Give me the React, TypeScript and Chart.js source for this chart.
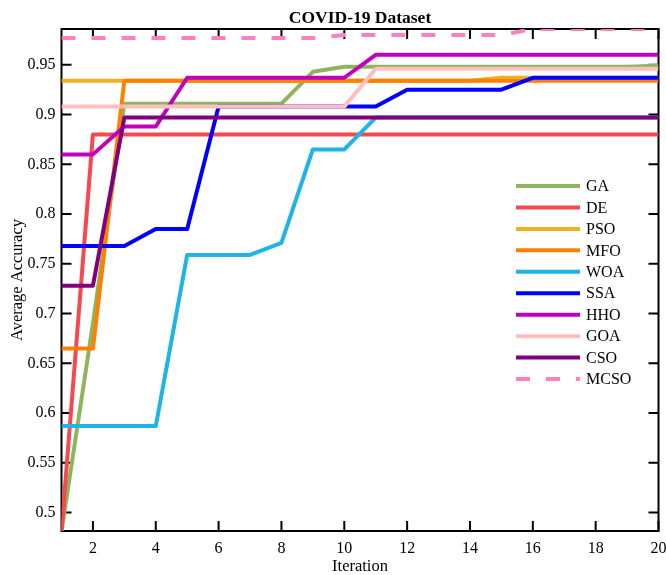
import React, { useEffect, useRef } from 'react';
import { Chart, registerables } from 'chart.js';

Chart.register(...registerables);

const iterations = [1, 2, 3, 4, 5, 6, 7, 8, 9, 10, 11, 12, 13, 14, 15, 16, 17, 18, 19, 20];

const GA = [0.481, 0.690, 0.911, 0.911, 0.911, 0.911, 0.911, 0.911, 0.943, 0.948, 0.948, 0.948, 0.948, 0.948, 0.948, 0.948, 0.948, 0.948, 0.948, 0.949];
const DE = [0.481, 0.880, 0.880, 0.880, 0.880, 0.880, 0.880, 0.880, 0.880, 0.880, 0.880, 0.880, 0.880, 0.880, 0.880, 0.880, 0.880, 0.880, 0.880, 0.880];
const PSO = [0.934, 0.934, 0.934, 0.934, 0.934, 0.934, 0.934, 0.934, 0.934, 0.934, 0.934, 0.934, 0.934, 0.934, 0.937, 0.937, 0.937, 0.937, 0.937, 0.937];
const MFO = [0.665, 0.665, 0.934, 0.934, 0.934, 0.934, 0.934, 0.934, 0.934, 0.934, 0.934, 0.934, 0.934, 0.934, 0.934, 0.934, 0.934, 0.934, 0.934, 0.934];
const WOA = [0.587, 0.587, 0.587, 0.587, 0.759, 0.759, 0.759, 0.771, 0.865, 0.865, 0.897, 0.897, 0.897, 0.897, 0.897, 0.897, 0.897, 0.897, 0.897, 0.897];
const SSA = [0.768, 0.768, 0.768, 0.785, 0.785, 0.908, 0.908, 0.908, 0.908, 0.908, 0.908, 0.925, 0.925, 0.925, 0.925, 0.937, 0.937, 0.937, 0.937, 0.937];
const HHO = [0.860, 0.860, 0.888, 0.888, 0.937, 0.937, 0.937, 0.937, 0.937, 0.937, 0.960, 0.960, 0.960, 0.960, 0.960, 0.960, 0.960, 0.960, 0.960, 0.960];
const GOA = [0.908, 0.908, 0.908, 0.908, 0.908, 0.908, 0.908, 0.908, 0.908, 0.908, 0.946, 0.946, 0.946, 0.946, 0.946, 0.946, 0.946, 0.946, 0.946, 0.946];
const CSO = [0.728, 0.728, 0.897, 0.897, 0.897, 0.897, 0.897, 0.897, 0.897, 0.897, 0.897, 0.897, 0.897, 0.897, 0.897, 0.897, 0.897, 0.897, 0.897, 0.897];
const MCSO = [0.977, 0.977, 0.977, 0.977, 0.977, 0.977, 0.977, 0.977, 0.977, 0.980, 0.980, 0.980, 0.980, 0.980, 0.980, 0.986, 0.986, 0.986, 0.986, 0.986];

const seriesNames = ['GA', 'DE', 'PSO', 'MFO', 'WOA', 'SSA', 'HHO', 'GOA', 'CSO', 'MCSO'];
const seriesValues = [GA, DE, PSO, MFO, WOA, SSA, HHO, GOA, CSO, MCSO];
const seriesColors = ['#8db55c', '#f54850', '#eeb122', '#ff8000', '#1fb3e6', '#0000ff', '#bf00bf', '#ffbfbf', '#800080', '#ff7fc0'];
const seriesDashed = [false, false, false, false, false, false, false, false, false, true];

const xTicks = [2, 4, 6, 8, 10, 12, 14, 16, 18, 20];
const xTickLabels = ['2', '4', '6', '8', '10', '12', '14', '16', '18', '20'];
const yTicks = [0.5, 0.55, 0.6, 0.65, 0.7, 0.75, 0.8, 0.85, 0.9, 0.95];
const yTickLabels = ['0.5', '0.55', '0.6', '0.65', '0.7', '0.75', '0.8', '0.85', '0.9', '0.95'];

const titleText = 'COVID-19 Dataset';
const xTitle = 'Iteration';
const yTitle = 'Average Accuracy';

const FONT = '"Liberation Serif", "Times New Roman", serif';
const DASH = [14, 16];

const framePlugin = {
  id: 'matlabFrame',
  beforeDatasetsDraw(chart: any) {
    const { ctx, chartArea } = chart;
    const { left, right, top, bottom } = chartArea;
    const xs = chart.scales.x;
    const ys = chart.scales.y;
    ctx.save();
    ctx.strokeStyle = '#000';
    ctx.lineWidth = 2;
    ctx.strokeRect(left, top, right - left, bottom - top);
    const tl = 10;
    ctx.beginPath();
    xTicks.forEach((v) => {
      const px = xs.getPixelForValue(v);
      ctx.moveTo(px, bottom);
      ctx.lineTo(px, bottom - tl);
      ctx.moveTo(px, top);
      ctx.lineTo(px, top + tl);
    });
    yTicks.forEach((v) => {
      const py = ys.getPixelForValue(v);
      ctx.moveTo(left, py);
      ctx.lineTo(left + tl, py);
      ctx.moveTo(right, py);
      ctx.lineTo(right - tl, py);
    });
    ctx.stroke();
    ctx.restore();
  },
  afterDraw(chart: any) {
    const { ctx, chartArea } = chart;
    const { left, right, top, bottom } = chartArea;
    const cx = (left + right) / 2;
    const cy = (top + bottom) / 2;
    ctx.save();
    ctx.fillStyle = '#000';
    ctx.textAlign = 'center';
    ctx.textBaseline = 'alphabetic';
    ctx.font = `bold 17.5px ${FONT}`;
    ctx.fillText(titleText, cx, 23);
    ctx.font = `16.5px ${FONT}`;
    ctx.fillText(xTitle, cx, 571);
    ctx.translate(22, cy);
    ctx.rotate(-Math.PI / 2);
    ctx.fillText(yTitle, 0, 0);
    ctx.restore();

    // legend
    ctx.save();
    const lx0 = 516;
    const lx1 = 580;
    const ly0 = 186;
    const step = 21.45;
    chart.data.datasets.forEach((ds: any, i: number) => {
      const y = ly0 + i * step;
      ctx.strokeStyle = ds.borderColor;
      ctx.lineWidth = 4;
      ctx.setLineDash(ds.borderDash || []);
      ctx.beginPath();
      ctx.moveTo(lx0, y);
      ctx.lineTo(lx1, y);
      ctx.stroke();
      ctx.setLineDash([]);
      ctx.fillStyle = '#000';
      ctx.font = `16px ${FONT}`;
      ctx.textAlign = 'left';
      ctx.textBaseline = 'middle';
      ctx.fillText(ds.label, 586, y + 1);
    });
    ctx.restore();
  },
};

export default function App() {
  const canvasRef = useRef<HTMLCanvasElement | null>(null);

  useEffect(() => {
    const canvas = canvasRef.current;
    if (!canvas) return;
    const n = seriesNames.length;
    const chart = new Chart(canvas, {
      type: 'line',
      data: {
        datasets: seriesNames.map((name, i) => ({
          label: name,
          data: iterations.map((x, j) => ({ x, y: seriesValues[i][j] })),
          borderColor: seriesColors[i],
          backgroundColor: seriesColors[i],
          borderWidth: 4,
          borderDash: seriesDashed[i] ? DASH : [],
          pointRadius: 0,
          tension: 0,
          fill: false,
          order: n - i,
          borderJoinStyle: 'round' as const,
          borderCapStyle: 'butt' as const,
        })),
      },
      options: {
        animation: false,
        responsive: false,
        maintainAspectRatio: false,
        events: [],
        layout: { padding: { top: 29, right: 7.5, left: 0, bottom: 0 } },
        plugins: {
          legend: { display: false },
          title: { display: false },
          tooltip: { enabled: false },
        },
        scales: {
          x: {
            type: 'linear',
            min: 1,
            max: 20,
            grid: { display: false, drawTicks: false },
            border: { display: false },
            afterBuildTicks: (s: any) => {
              s.ticks = xTicks.map((v) => ({ value: v }));
            },
            afterFit: (s: any) => {
              s.height = 44;
              s.paddingLeft = 0;
              s.paddingRight = 0;
            },
            ticks: {
              color: '#000',
              font: { family: FONT, size: 16 },
              padding: 8,
              maxRotation: 0,
              autoSkip: false,
              callback: (v: any) => {
                const k = xTicks.indexOf(Number(v));
                return k >= 0 ? xTickLabels[k] : '';
              },
            },
          },
          y: {
            type: 'linear',
            min: 0.4815,
            max: 0.986,
            grid: { display: false, drawTicks: false },
            border: { display: false },
            afterBuildTicks: (s: any) => {
              s.ticks = yTicks.map((v) => ({ value: v }));
            },
            afterFit: (s: any) => {
              s.width = 61.5;
              s.paddingTop = 0;
              s.paddingBottom = 0;
            },
            ticks: {
              color: '#000',
              font: { family: FONT, size: 16 },
              padding: 6,
              autoSkip: false,
              callback: (v: any) => {
                const k = yTicks.findIndex((t) => Math.abs(t - Number(v)) < 1e-6);
                return k >= 0 ? yTickLabels[k] : '';
              },
            },
          },
        },
      },
      plugins: [framePlugin],
    });
    return () => {
      chart.destroy();
    };
  }, []);

  return (
    <div style={{ position: 'fixed', left: 0, top: 0, width: 666, height: 575, background: '#fff' }}>
      <canvas ref={canvasRef} width={666} height={575} style={{ width: 666, height: 575, display: 'block' }} />
    </div>
  );
}
